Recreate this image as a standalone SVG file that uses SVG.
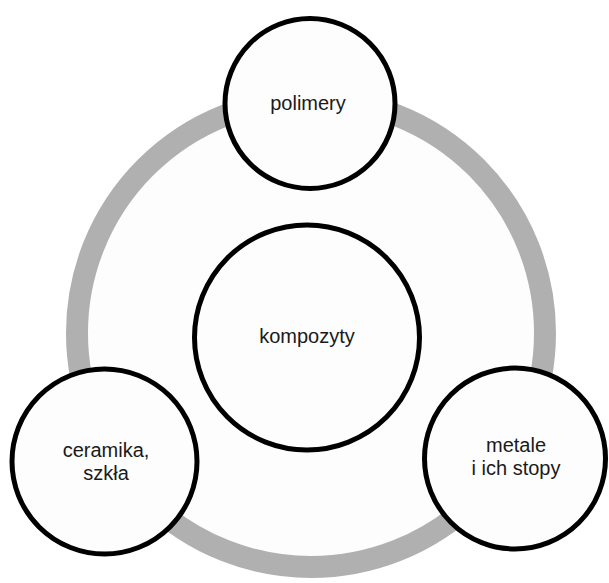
<svg xmlns="http://www.w3.org/2000/svg" width="609" height="583" viewBox="0 0 609 583">
<style>
.node circle{fill:#fdfdfd;stroke:#000;stroke-width:5}
.node text{font-family:"Liberation Sans",Arial,sans-serif;font-size:20px;fill:#1a1a1a;text-anchor:middle}
</style>
<rect width="609" height="583" fill="#fff"/>
<g id="connectors">
<circle cx="311" cy="333" r="234" fill="#fdfdfd" stroke="#b0b0b0" stroke-width="22"/>
</g>
<g id="kompozyty" class="node">
<circle cx="307" cy="337.5" r="112.5"/>
<text x="307" y="343">kompozyty</text>
</g>
<g id="polimery" class="node">
<circle cx="310" cy="103.5" r="85"/>
<text x="308" y="110">polimery</text>
</g>
<g id="ceramika" class="node">
<circle cx="104.5" cy="461.5" r="92.5"/>
<text x="106" y="457">ceramika,</text>
<text x="106" y="480">szkła</text>
</g>
<g id="metale" class="node">
<circle cx="515" cy="458.5" r="90.5"/>
<text x="516" y="452">metale</text>
<text x="516" y="475">i ich stopy</text>
</g>
</svg>
